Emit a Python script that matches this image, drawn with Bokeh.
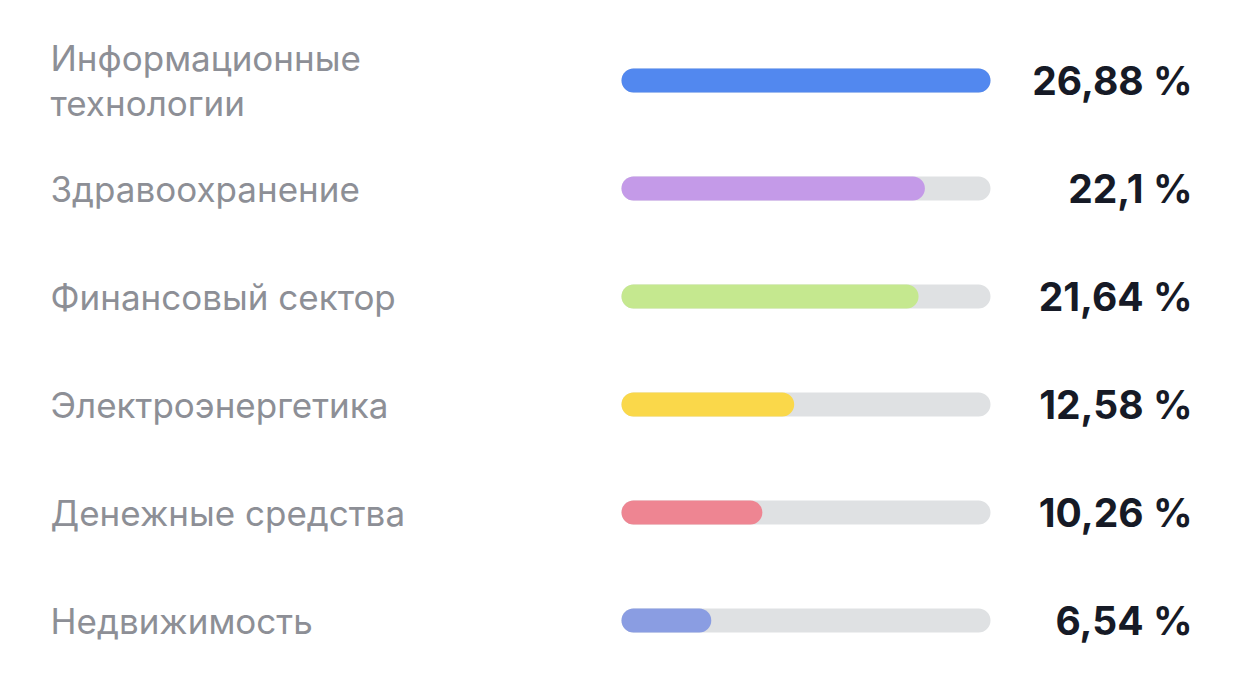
from bokeh.plotting import figure
from bokeh.models import Range1d, ColumnDataSource
from bokeh.core.properties import value
from bokeh.embed import file_html
from bokeh.resources import INLINE

categories = ["Информационные\nтехнологии", "Здравоохранение", "Финансовый сектор",
              "Электроэнергетика", "Денежные средства", "Недвижимость"]
shares = [26.88, 22.1, 21.64, 12.58, 10.26, 6.54]
share_labels = ["26,88 %", "22,1 %", "21,64 %", "12,58 %", "10,26 %", "6,54 %"]
colors = ["#5288ef", "#c49ae8", "#c5e88f", "#fad84a", "#ee8592", "#8a9de2"]

W, H = 1226, 661
max_val = max(shares)
bar_px = 369.0
scale = bar_px / max_val          # px per unit
x0_px = 621.0                     # frame px of value 0
row_px = 108.0
first_row_px = 80.0

x_start = -x0_px / scale
x_end = (W - x0_px) / scale
y_top = -first_row_px / row_px
y_bottom = y_top + H / row_px

p = figure(width=W, height=H, output_backend="svg", toolbar_location=None,
           x_range=Range1d(x_start, x_end), y_range=Range1d(y_bottom, y_top),
           min_border=0, outline_line_color=None, background_fill_color="white",
           border_fill_color="white")
p.axis.visible = False
p.grid.visible = False

idx = list(range(len(categories)))
src = ColumnDataSource(dict(y=idx, v=shares, full=[max_val] * len(idx), c=colors,
                            cat=categories, lab=share_labels,
                            lx=[(50 - x0_px) / scale] * len(idx),
                            vx=[(1192 - x0_px) / scale] * len(idx)))

bh = 24 / row_px
p.hbar(y="y", left=0, right="full", height=bh, source=src, fill_color="#dfe1e3",
       line_color=None, border_radius=12)
p.hbar(y="y", left=0, right="v", height=bh, source=src, fill_color="c",
       line_color=None, border_radius=12)

p.text(x="lx", y="y", text="cat", source=src, text_align="left", text_baseline="middle",
       text_font=value("Inter"), text_font_size="35px", text_color="#8d8f96",
       text_line_height=1.07)
p.text(x="vx", y="y", text="lab", source=src, text_align="right", text_baseline="middle",
       text_font=value("Inter"), text_font_size="39px", text_font_style="bold",
       text_color="#161a26")

open("out.html", "w").write(file_html(p, INLINE))
